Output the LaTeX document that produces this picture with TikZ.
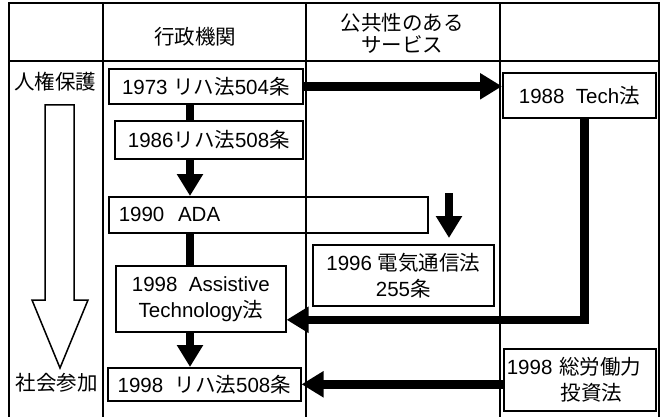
\documentclass[tikz,border=0pt]{standalone}
\usepackage{fontspec}
\setmainfont{Liberation Sans}
\newfontfamily\jp[Scale=1.0]{Noto Sans CJK JP}
\usetikzlibrary{arrows.meta}
\begin{document}
\begin{tikzpicture}[x=1pt,y=-1pt,
  frame/.style={line width=1.4pt},
  box/.style={draw, line width=1.6pt, anchor=north west, inner sep=0pt, font=\fontsize{20.5}{26}\selectfont, align=center},
  lbl/.style={font=\fontsize{20.5}{22}\selectfont, inner sep=0pt, align=center},
  heavy/.style={line width=8.5pt},
  heavyarr/.style={line width=8.5pt, -{Triangle[width=25pt,length=22pt]}},
  hollow/.style={draw, line width=1.5pt, line join=miter, fill=white}
]
\useasboundingbox (0,0) rectangle (661,417);
\fill[white] (0,0) rectangle (661,417);
% table
\draw[frame] (9,417) -- (9,3) -- (659,3) -- (659,417);
\draw[frame] (9,61) -- (659,61);
\draw[frame] (103,3) -- (103,417);
\draw[frame] (306,3) -- (306,417);
\draw[frame] (500,3) -- (500,417);
% headers and side labels
\node[lbl] (h1) at (195,37) {\jp 行政機関};
\node[lbl] (h2) at (402,33) {\jp 公共性のある\\\jp サービス};
\node[lbl] (l1) at (55,82) {\jp 人権保護};
\node[lbl] (l2) at (57,383) {\jp 社会参加};
% hollow arrow
\draw[hollow] (45,105) -- (74,105) -- (74,300) -- (88,300) -- (60,368) -- (32,300) -- (45,300) -- cycle;
% boxes
\node[box, minimum width=194pt, minimum height=35pt] (b1973) at (108,68) {1973 {\jp リハ法}504{\jp 条}};
\node[box, minimum width=188pt, minimum height=38pt] (b1986) at (114,120) {1986{\jp リハ法}508{\jp 条}};
\node[box, minimum width=319pt, minimum height=36pt, text width=299pt, inner xsep=10pt, align=left] (ada) at (108,196) {1990~~ADA};
\node[box, minimum width=170pt, minimum height=66pt] (at) at (115,265) {1998~~Assistive\\Technology{\jp 法}};
\node[box, minimum width=181pt, minimum height=61pt] (b1996) at (312,244) {1996 {\jp 電気通信法}\\255{\jp 条}};
\node[box, minimum width=193pt, minimum height=33pt] (final) at (107,367) {1998~~{\jp リハ法}508{\jp 条}};
\node[box, minimum width=153pt, minimum height=45pt] (tech) at (502,72) {1988~~Tech{\jp 法}};
\node[box, minimum width=152pt, minimum height=62pt, text width=146pt, inner xsep=3pt, align=left] (sou) at (503,348) {1998 {\jp 総労働力}\\\hspace*{54pt}{\jp 投資法}};
% connectors
\coordinate (vx) at (190,0);
\draw[heavy] (b1973.south -| vx) -- (b1986.north -| vx);
\draw[heavyarr] (b1986.south -| vx) -- (ada.north -| vx);
\draw[heavy] (ada.south -| vx) -- (at.north -| vx);
\draw[heavyarr] (at.south -| vx) -- (final.north -| vx);
\draw[heavyarr] (b1973.east) -- (b1973.east -| tech.west);
\draw[heavyarr] ([xshift=5pt]tech.south) |- ([yshift=-21pt]at.east);
\draw[heavyarr] (sou.west |- final.east) -- (final.east);
\coordinate (adadown) at (449,193);
\draw[heavyarr] (adadown) -- ([yshift=6pt]b1996.north -| adadown);
\end{tikzpicture}
\end{document}
